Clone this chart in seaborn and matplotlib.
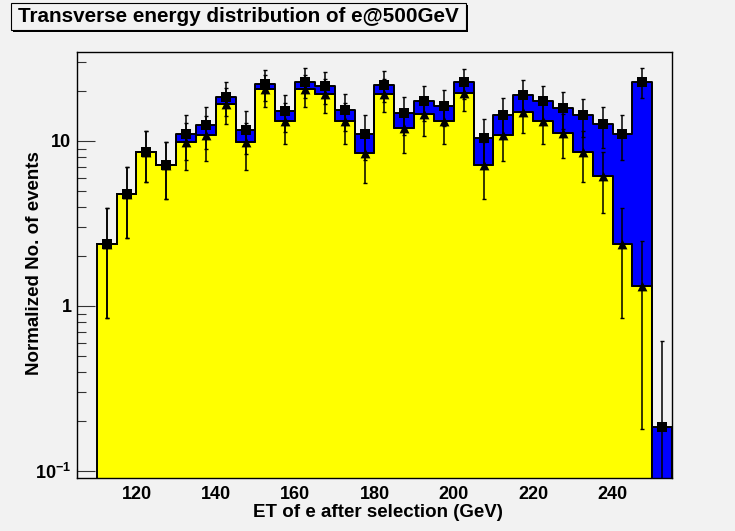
import numpy as np
import pandas as pd
import matplotlib
matplotlib.use("Agg")
import matplotlib.pyplot as plt
from matplotlib.patches import Rectangle
from matplotlib.ticker import FixedLocator, FixedFormatter, LogLocator, NullFormatter, MultipleLocator
import seaborn as sns

# ---- histogram content (5 GeV bins from 110 to 255 GeV) ----
bin_edges = [110, 115, 120, 125, 130, 135, 140, 145, 150, 155, 160, 165, 170, 175, 180,
             185, 190, 195, 200, 205, 210, 215, 220, 225, 230, 235, 240, 245, 250, 255]
bin_centers = [112.5, 117.5, 122.5, 127.5, 132.5, 137.5, 142.5, 147.5, 152.5, 157.5,
               162.5, 167.5, 172.5, 177.5, 182.5, 187.5, 192.5, 197.5, 202.5, 207.5,
               212.5, 217.5, 222.5, 227.5, 232.5, 237.5, 242.5, 247.5, 252.5]

# lower (yellow) component of the stack
yellow_counts = [2.38, 4.77, 8.54, 7.16, 9.8, 10.9, 16.8, 9.8, 20.6, 13.3,
                 20.6, 19.2, 13.3, 8.46, 19.3, 11.9, 14.6, 13.3, 19.6, 7.13,
                 10.8, 15.0, 13.3, 11.2, 8.54, 6.11, 2.38, 1.33, 0.0]
# upper (blue) component of the stack
blue_counts = [0.0, 0.0, 0.0, 0.0, 1.2, 1.6, 1.7, 1.9, 1.6, 1.9,
               2.3, 2.2, 2.1, 2.54, 2.6, 2.8, 2.8, 3.0, 3.1, 3.27,
               3.6, 4.0, 4.2, 4.6, 5.76, 6.49, 8.62, 21.57, 0.184]

# statistical uncertainties of the yellow component and of the stack total
yellow_err = [1.54, 2.18, 2.92, 2.68, 3.13, 3.30, 4.10, 3.13, 4.54, 3.65,
              4.54, 4.38, 3.65, 2.91, 4.39, 3.45, 3.82, 3.65, 4.43, 2.67,
              3.29, 3.87, 3.65, 3.35, 2.92, 2.47, 1.54, 1.15, 0.0]
total_err = [1.54, 2.18, 2.92, 2.68, 3.32, 3.54, 4.30, 3.42, 4.71, 3.90,
             4.79, 4.63, 3.92, 3.32, 4.68, 3.83, 4.17, 4.04, 4.76, 3.22,
             3.79, 4.36, 4.18, 3.97, 3.78, 3.55, 3.32, 4.79, 0.43]

x_ticks = [120, 140, 160, 180, 200, 220, 240]
y_ticks = [0.1, 1, 10]
y_tick_labels = ["10$^{-1}$", "1", "10"]

title_text = "Transverse energy distribution of e@500GeV"
x_title = "ET of e after selection (GeV)"
y_title = "Normalized No. of events"

BG = "#f2f2f2"
YELLOW = "#ffff00"
BLUE = "#0000ff"

sns.set_style("ticks")
plt.rcParams.update({
    "font.weight": "bold",
    "axes.labelweight": "bold",
    "mathtext.fontset": "custom",
    "mathtext.rm": "Liberation Sans:bold",
    "mathtext.bf": "Liberation Sans:bold",
    "mathtext.default": "rm",
    "axes.edgecolor": "black",
    "axes.linewidth": 1.0,
    "text.color": "black",
    "axes.labelcolor": "black",
    "xtick.color": "black",
    "ytick.color": "black",
    "xtick.labelcolor": "black",
    "ytick.labelcolor": "black",
})
plt.rcParams["font.family"] = ["Liberation Sans", "DejaVu Sans"]

W, H = 735, 531
fig = plt.figure(figsize=(W / 100, H / 100), dpi=100, facecolor=BG)
ax = fig.add_axes([77 / W, 1 - 478 / H, (672 - 77) / W, (478 - 52) / H])
ax.set_facecolor(BG)
ax.set_yscale("log")

n = len(bin_centers)
df = pd.DataFrame({
    "et": bin_centers + bin_centers,
    "weight": yellow_counts + blue_counts,
    "component": ["yellow"] * n + ["blue"] * n,
})

# stacked histogram: seaborn puts the last hue level at the bottom of the stack
sns.histplot(data=df, x="et", weights="weight", hue="component",
             hue_order=["blue", "yellow"], multiple="stack", bins=bin_edges,
             element="step", fill=True, alpha=1,
             palette={"yellow": YELLOW, "blue": BLUE},
             edgecolor="black", linewidth=1.4, legend=False, ax=ax)

yel = np.array(yellow_counts)
tot = yel + np.array(blue_counts)
xc = np.array(bin_centers)
has_yel = yel > 0

# error bars and markers: triangles for the yellow component, squares for the total
ax.errorbar(xc[has_yel], yel[has_yel], yerr=np.array(yellow_err)[has_yel], fmt="none",
            ecolor="black", elinewidth=1.1, capsize=1.6, capthick=1.0, zorder=3)
ax.errorbar(xc, tot, yerr=total_err, fmt="none",
            ecolor="black", elinewidth=1.1, capsize=1.6, capthick=1.0, zorder=3)
sns.scatterplot(x=xc[has_yel], y=yel[has_yel], marker="^", s=50, color="black",
                edgecolor="black", linewidth=0, ax=ax, zorder=4)
sns.scatterplot(x=xc, y=tot, marker="s", s=48, color="black",
                edgecolor="black", linewidth=0, ax=ax, zorder=5)

ax.set_xlim(105, 255)
ax.set_ylim(0.0907, 34.6)

ax.xaxis.set_major_locator(FixedLocator(x_ticks))
ax.xaxis.set_minor_locator(MultipleLocator(5))
ax.yaxis.set_major_locator(FixedLocator(y_ticks))
ax.yaxis.set_major_formatter(FixedFormatter(y_tick_labels))
ax.yaxis.set_minor_locator(LogLocator(base=10, subs=range(2, 10)))
ax.yaxis.set_minor_formatter(NullFormatter())
ax.tick_params(which="major", direction="in", length=12.7, width=0.8, labelsize=13,
               color="#333333", labelcolor="black", top=False, right=False)
ax.tick_params(which="minor", direction="in", length=6.3, width=0.8,
               color="#333333", top=False, right=False)
ax.tick_params(axis="x", pad=6)
ax.tick_params(axis="y", pad=4)
ax.set_axisbelow(True)
for s in ax.spines.values():
    s.set_visible(True)
    s.set_color("black")
    s.set_linewidth(1.0)

ax.set_xlabel(x_title, fontsize=13.5, fontweight="bold", color="black")
ax.set_ylabel(y_title, fontsize=13.5, fontweight="bold", color="black")
ax.xaxis.set_label_coords(0.506, -0.062)
ax.yaxis.set_label_coords(-0.057, 0.505)

# title pave with a drop shadow
bx0, bx1, by0, by1 = 11, 466, 3, 30
fig.patches.append(Rectangle(((bx0 + 2) / W, 1 - (by1 + 2) / H), (bx1 - bx0) / W,
                             (by1 - by0) / H, transform=fig.transFigure,
                             facecolor="black", edgecolor="none", zorder=1))
fig.patches.append(Rectangle((bx0 / W, 1 - by1 / H), (bx1 - bx0) / W, (by1 - by0) / H,
                             transform=fig.transFigure, facecolor=BG,
                             edgecolor="black", linewidth=0.8, zorder=2))
fig.text((bx0 + bx1) / 2 / W, 1 - (by0 + by1) / 2 / H, title_text, color="black",
         ha="center", va="center", fontsize=14.9, fontweight="bold", zorder=3)

fig.savefig("out.png", dpi=100, facecolor=BG)
